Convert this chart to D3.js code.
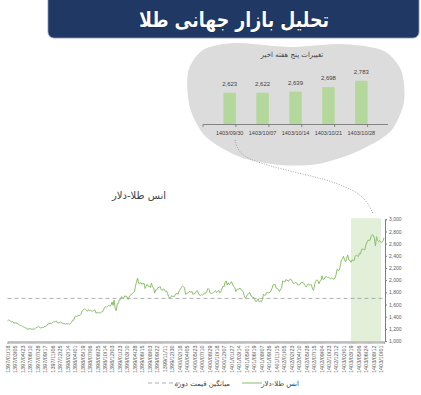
<!DOCTYPE html>
<html><head><meta charset="utf-8">
<script src="https://cdn.jsdelivr.net/npm/d3@7"></script>
<style>body{margin:0;background:#fff} svg{display:block}</style>
</head><body>
<svg id="c" width="421" height="395"></svg>
<script>
// ---------- DATA ----------
const pageTitle = "تحلیل بازار جهانی طلا";
const barTitle = "تغییرات پنج هفته اخیر";
const lineTitle = "انس طلا-دلار";
const legendLine = "انس طلا-دلار";
const legendAvg = "میانگین قیمت دوره";

const barDates = ["1403/09/30","1403/10/07","1403/10/14","1403/10/21","1403/10/28"];
const barValues = [2623, 2622, 2639, 2698, 2783];

const gold2018 = [1332,1345,1336,1323,1314,1320,1291,1302,1294,1298,1279,1270,1252,1255,1241,1231,1223,1214,1212,1184,1206,1201,1196,1194,1199,1191,1203,1222,1227,1234,1232,1209,1222,1223,1222,1248,1238,1257,1281];
const gold2019 = [1285,1290,1282,1298,1318,1315,1322,1328,1294,1298,1302,1313,1292,1291,1290,1276,1286,1280,1285,1277,1283,1305,1341,1341,1399,1409,1400,1415,1426,1419,1440,1497,1513,1527,1520,1507,1488,1517,1497,1505,1489,1490,1505,1511,1459,1468,1462,1464,1460,1476,1478,1511];
const gold2020 = [1552,1560,1557,1571,1589,1570,1584,1643,1585,1674,1529,1498,1617,1620,1683,1683,1729,1700,1703,1743,1734,1730,1683,1729,1743,1771,1774,1798,1810,1902,1975,2035,1944,1940,1964,1934,1940,1950,1862,1900,1930,1899,1902,1879,1951,1889,1871,1788,1839,1839,1882,1877];
const gold2021 = [1898,1850,1828,1855,1850,1814,1824,1784,1734,1700,1719,1745,1733,1729,1744,1777,1777,1768,1831,1844,1881,1905,1891,1877,1764,1781,1787,1808,1815,1802,1814,1763,1780,1781,1818,1827,1787,1754,1750,1761,1757,1768,1793,1783,1818,1865,1846,1788,1783,1784,1798,1808,1829];
const gold2022 = [1797,1817,1835,1791,1807,1859,1898,1889,1966,1988,1921,1958,1925,1947,1975,1932,1897,1883,1811,1846,1853,1851,1871,1840,1827,1811,1742,1703,1727,1766,1775,1802,1747,1738,1712,1716,1675,1644,1660,1695,1644,1657,1645,1681,1771,1751,1755,1797,1797,1793,1798,1824];
const gold2023 = [1865,1920,1926,1928,1865,1865,1842,1811,1856,1868,1989,1978,1969,2007,2004,1983,1990,2017,2011,1978,1946,1948,1961,1957,1921,1919,1925,1955,1962,1959,1943,1914,1889,1915,1940,1919,1924,1925,1849,1833,1933,1981,2006,1992,1940,1981,2002,2072,2005,2019,2053,2063];
const gold2024 = [2045,2049,2029,2018,2039,2024,2013,2036,2083,2179,2155,2165,2230,2330,2344,2392,2337,2301,2360,2415,2334,2327,2293,2333,2322,2326,2392,2411,2400,2386,2443,2431,2507,2512,2503,2497,2577,2621,2658,2653,2657,2721,2747,2736,2685,2563,2715,2650,2633,2648,2623,2622];
const gold2025 = [2639,2698];

const xLabels = ["1397/01/18","1397/03/05","1397/04/23","1397/06/10","1397/07/28","1397/09/17","1397/11/06","1397/12/25","1398/02/14","1398/04/01","1398/05/19","1398/07/06","1398/08/25","1398/10/14","1398/12/03","1399/01/23","1399/03/10","1399/04/28","1399/06/15","1399/08/03","1399/09/22","1399/11/11","1399/12/30","1400/02/18","1400/04/05","1400/05/23","1400/07/10","1400/08/29","1400/10/18","1400/12/07","1401/01/27","1401/03/14","1401/05/01","1401/06/19","1401/08/07","1401/09/26","1401/11/15","1402/01/05","1402/02/23","1402/04/10","1402/05/28","1402/07/15","1402/09/04","1402/10/23","1402/12/12","1403/02/01","1403/03/19","1403/05/06","1403/06/24","1403/08/12","1403/10/01"];
const labelStep = 7;
const yTicks = [1000,1200,1400,1600,1800,2000,2200,2400,2600,2800,3000];
const avgPrice = 1700;
const highlightStartIndex = 322;

// ---------- CHART ----------
const gold = [].concat(gold2018, gold2019, gold2020, gold2021, gold2022, gold2023, gold2024, gold2025);
const idx = gold.map((d,i)=>i);
const svg = d3.select("#c");
const arabic = "'DejaVu Sans', sans-serif";
const num = "'Liberation Sans Narrow','Liberation Sans', Arial, sans-serif";

// header
svg.append("rect").attr("x",48).attr("y",-10).attr("width",371).attr("height",48).attr("rx",6)
  .attr("fill","#1f3864").attr("stroke","#8a9bbd").attr("stroke-width",0.8);
svg.append("text").attr("x",234).attr("y",27).attr("text-anchor","middle")
  .attr("font-family",arabic).attr("font-weight","bold").attr("font-size",21)
  .attr("textLength",190).attr("lengthAdjust","spacingAndGlyphs")
  .attr("fill","#fff").attr("stroke","#0b1530").attr("stroke-width",0.6).attr("paint-order","stroke")
  .text(pageTitle);

// blob
const blobPts = [[188,72],[203,50],[235,43],[290,47],[340,44],[382,50],[401,70],[404,102],[390,132],[356,152],[318,164],[280,165],[240,157],[206,137],[190,108]];
svg.append("path").attr("d", d3.line().curve(d3.curveCardinalClosed.tension(0.2))(blobPts))
  .attr("fill","#dcdcdc");

// bar chart
const xB = d3.scaleBand().domain(barDates).range([203,388]).padding(0.62);
const yB = d3.scaleLinear().domain([2200,2800]).range([124.3,79.5]);
svg.append("text").attr("x",292).attr("y",57).attr("text-anchor","middle")
  .attr("font-family",arabic).attr("font-size",7).attr("fill","#404040").text(barTitle);
svg.append("g").selectAll("rect").data(barValues).join("rect")
  .attr("x",(d,i)=>xB(barDates[i])).attr("width",xB.bandwidth())
  .attr("y",d=>yB(d)).attr("height",d=>yB(2200)-yB(d)).attr("fill","#b4d89b");
svg.append("g").selectAll("text").data(barValues).join("text")
  .attr("x",(d,i)=>xB(barDates[i])+xB.bandwidth()/2).attr("y",d=>yB(d)-7)
  .attr("text-anchor","middle").attr("font-family",num).attr("font-size",6).attr("fill","#404040")
  .text(d=>d3.format(",")(d));
const [b0,b1] = xB.range();
svg.append("line").attr("x1",b0).attr("x2",b1).attr("y1",124.5).attr("y2",124.5).attr("stroke","#6d6d6d").attr("stroke-width",0.8);
svg.append("g").selectAll("line").data(d3.range(barDates.length+1)).join("line")
  .attr("x1",i=>b0+i*xB.step()).attr("x2",i=>b0+i*xB.step()).attr("y1",124.5).attr("y2",127)
  .attr("stroke","#6d6d6d").attr("stroke-width",0.8);
svg.append("g").selectAll("text").data(barDates).join("text")
  .attr("x",d=>xB(d)+xB.bandwidth()/2).attr("y",135).attr("text-anchor","middle")
  .attr("font-family",num).attr("font-size",5.5).attr("fill","#404040").text(d=>d);

// connector
svg.append("path").attr("d", d3.line().curve(d3.curveBasis)([[235,140],[238,152],[252,161],[285,170],[325,179],[352,189],[367,200],[373,214]]))
  .attr("fill","none").attr("stroke","#8c8c8c").attr("stroke-width",0.8).attr("stroke-dasharray","1,1.5");

// line chart
const x = d3.scaleLinear().domain([0, gold.length-1]).range([7.5,384]);
const y = d3.scaleLinear().domain([1000,3000]).range([341,219.3]);

svg.append("text").attr("x",139).attr("y",199).attr("text-anchor","middle")
  .attr("font-family",arabic).attr("font-size",10).attr("fill","#404040").text(lineTitle);

svg.append("rect").attr("x",x(highlightStartIndex)).attr("y",y(3000)-1)
  .attr("width",381-x(highlightStartIndex)).attr("height",y(1000)-y(3000)+1).attr("fill","#e2efd9");

svg.append("line").attr("x1",x(0)).attr("x2",x(gold.length-1)).attr("y1",y(avgPrice)).attr("y2",y(avgPrice))
  .attr("stroke","#a6a6a6").attr("stroke-width",0.9).attr("stroke-dasharray","4,3");

svg.append("path").datum(gold).attr("d", d3.line().x((d,i)=>x(i)).y(d=>y(d)))
  .attr("fill","none").attr("stroke","#8cc06c").attr("stroke-width",1);

// x axis
const gx = svg.append("g").attr("transform",`translate(0,${y(1000)+0.5})`)
  .call(d3.axisBottom(x).tickValues(idx).tickSize(2.5)
    .tickFormat(i => i % labelStep === 0 && xLabels[i/labelStep] ? xLabels[i/labelStep] : ""));
gx.select(".domain").attr("stroke","#a6a6a6");
gx.selectAll(".tick line").attr("stroke","#a6a6a6").attr("stroke-width",0.6);
gx.selectAll(".tick text").attr("font-family",num).attr("font-size",5.5).attr("fill","#595959")
  .attr("transform","rotate(-90)").attr("text-anchor","end").attr("x",-4).attr("y",0).attr("dy","0.35em");

// y axis
const gy = svg.append("g").attr("transform","translate(385,0)")
  .call(d3.axisRight(y).tickValues(yTicks).tickSize(2).tickFormat(d3.format(",")));
gy.select(".domain").attr("stroke","#7f7f7f");
gy.selectAll(".tick line").attr("stroke","#7f7f7f");
gy.selectAll(".tick text").attr("font-family",num).attr("font-size",5).attr("fill","#595959").attr("x",4);

// legend
const lg = svg.append("g");
lg.append("line").attr("x1",148).attr("x2",180).attr("y1",383).attr("y2",383)
  .attr("stroke","#a6a6a6").attr("stroke-width",0.9).attr("stroke-dasharray","4,3");
lg.append("text").attr("x",230).attr("y",385.5).attr("text-anchor","end")
  .attr("font-family",arabic).attr("font-size",7).attr("fill","#404040").text(legendAvg);
lg.append("line").attr("x1",242).attr("x2",262).attr("y1",383).attr("y2",383)
  .attr("stroke","#8cc06c").attr("stroke-width",1);
lg.append("text").attr("x",299).attr("y",385.5).attr("text-anchor","end")
  .attr("font-family",arabic).attr("font-size",7).attr("fill","#404040").text(legendLine);
</script>
</body></html>
